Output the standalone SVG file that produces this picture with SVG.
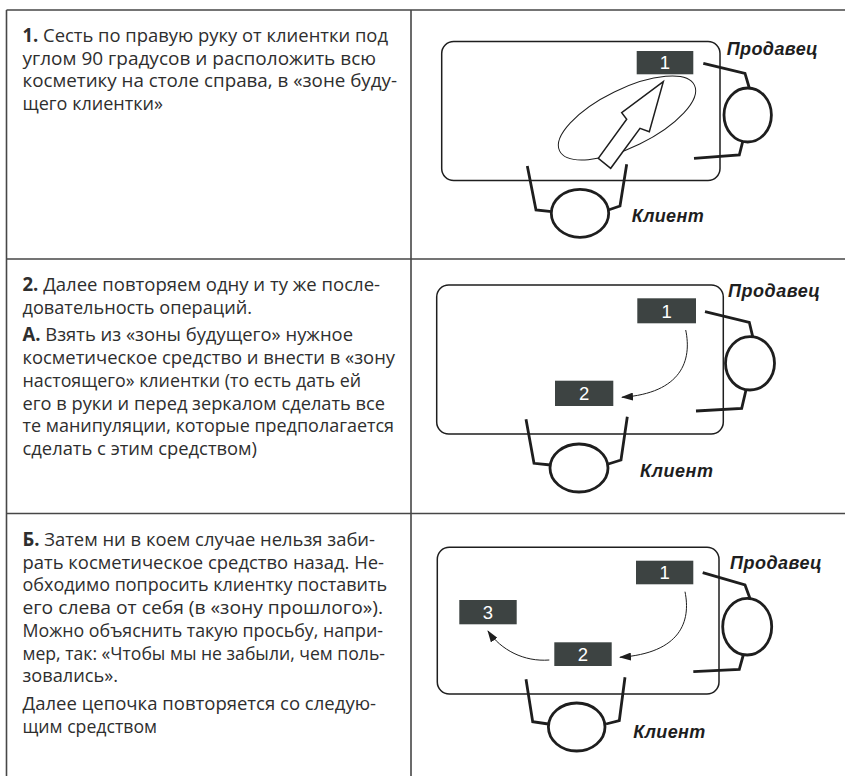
<svg xmlns="http://www.w3.org/2000/svg" width="845" height="776" viewBox="0 0 845 776">
<style>
.grid{stroke:#474747;stroke-width:1.6;fill:none}
.t{font-family:"Open Sans","Noto Sans",sans-serif;font-size:18.7px;fill:#2e2e2e}
.b{font-weight:bold}
.table{fill:none;stroke:#1e1e1e;stroke-width:1.5}
.fig{fill:none;stroke:#1e1e1e;stroke-width:2.8;stroke-linejoin:miter}
.box{fill:#3d4342}
.num{font-family:"Liberation Sans",Arial,sans-serif;font-size:18.5px;fill:#ffffff;text-anchor:middle}
.lbl{font-family:"Liberation Sans",Arial,sans-serif;font-size:18px;font-weight:bold;font-style:italic;fill:#1e1e1e}
.flow{fill:none;stroke:#1e1e1e;stroke-width:1}
</style>
<defs>
<marker id="ah" viewBox="0 0 12 8" refX="11" refY="4" markerWidth="12" markerHeight="8" markerUnits="userSpaceOnUse" orient="auto">
<path d="M0,0 L12,4 L0,8 Z" fill="#1e1e1e"/>
</marker>
</defs>

<g id="grid">
<path class="grid" d="M6.5,10 H845 M6.5,10 V776 M411,10 V776 M6.5,259 H845 M6.5,513.5 H845"/>
</g>

<g id="text1">
<text class="t" x="22.5" y="42" textLength="365.5" lengthAdjust="spacingAndGlyphs"><tspan class="b">1.</tspan> Сесть по правую руку от клиентки под</text>
<text class="t" x="22.5" y="64.7" textLength="353.5" lengthAdjust="spacingAndGlyphs">углом 90 градусов и расположить всю</text>
<text class="t" x="22.5" y="87.4" textLength="374.5" lengthAdjust="spacingAndGlyphs">косметику на столе справа, в «зоне буду-</text>
<text class="t" x="22.5" y="110.1" textLength="140.5" lengthAdjust="spacingAndGlyphs">щего клиентки»</text>
</g>

<g id="text2">
<text class="t" x="22.5" y="291" textLength="357.5" lengthAdjust="spacingAndGlyphs"><tspan class="b">2.</tspan> Далее повторяем одну и ту же после-</text>
<text class="t" x="22.5" y="313.7" textLength="229.5" lengthAdjust="spacingAndGlyphs">довательность операций.</text>
<text class="t" x="22.5" y="341.4" textLength="330.5" lengthAdjust="spacingAndGlyphs"><tspan class="b">А.</tspan> Взять из «зоны будущего» нужное</text>
<text class="t" x="22.5" y="364.1" textLength="372.5" lengthAdjust="spacingAndGlyphs">косметическое средство и внести в «зону</text>
<text class="t" x="22.5" y="386.8" textLength="338.5" lengthAdjust="spacingAndGlyphs">настоящего» клиентки (то есть дать ей</text>
<text class="t" x="22.5" y="409.5" textLength="362.5" lengthAdjust="spacingAndGlyphs">его в руки и перед зеркалом сделать все</text>
<text class="t" x="22.5" y="432.2" textLength="371.5" lengthAdjust="spacingAndGlyphs">те манипуляции, которые предполагается</text>
<text class="t" x="22.5" y="454.9" textLength="234.5" lengthAdjust="spacingAndGlyphs">сделать с этим средством)</text>
</g>

<g id="text3">
<text class="t" x="22.5" y="546" textLength="352.5" lengthAdjust="spacingAndGlyphs"><tspan class="b">Б.</tspan> Затем ни в коем случае нельзя заби-</text>
<text class="t" x="22.5" y="568.7" textLength="361.5" lengthAdjust="spacingAndGlyphs">рать косметическое средство назад. Не-</text>
<text class="t" x="22.5" y="591.4" textLength="364.5" lengthAdjust="spacingAndGlyphs">обходимо попросить клиентку поставить</text>
<text class="t" x="22.5" y="614.1" textLength="360.5" lengthAdjust="spacingAndGlyphs">его слева от себя (в «зону прошлого»).</text>
<text class="t" x="22.5" y="636.8" textLength="360.5" lengthAdjust="spacingAndGlyphs">Можно объяснить такую просьбу, напри-</text>
<text class="t" x="22.5" y="659.5" textLength="362.5" lengthAdjust="spacingAndGlyphs">мер, так: «Чтобы мы не забыли, чем поль-</text>
<text class="t" x="22.5" y="682.2" textLength="95.5" lengthAdjust="spacingAndGlyphs">зовались».</text>
<text class="t" x="22.5" y="710" textLength="353.5" lengthAdjust="spacingAndGlyphs">Далее цепочка повторяется со следую-</text>
<text class="t" x="22.5" y="732.7" textLength="134.5" lengthAdjust="spacingAndGlyphs">щим средством</text>
</g>

<!-- Diagram 1 -->
<g id="d1-table"><rect class="table" x="441.7" y="41.5" width="278.3" height="139" rx="12"/></g>
<g id="d1-item1"><rect class="box" x="636.7" y="51" width="56.6" height="23.3"/><text class="num" x="665" y="69">1</text></g>
<g id="d1-zone"><ellipse cx="627" cy="118" rx="75" ry="29" fill="none" stroke="#1e1e1e" stroke-width="1" transform="rotate(-26 627 118)"/></g>
<g id="d1-arrow"><polygon points="663.3,81.7 621.7,112.7 626.7,119.3 598.3,158.3 610.7,168.3 640,128.3 649.3,131.7" fill="#ffffff" stroke="#1e1e1e" stroke-width="1.5" stroke-linejoin="miter"/></g>
<g id="d1-seller"><ellipse class="fig" cx="747.7" cy="115" rx="23.7" ry="27"/><path class="fig" d="M703.3,63.3 L745,73.3 L749.3,88 M742.7,141.7 L739.3,155 L694,158.3"/><text class="lbl" x="726.7" y="55" textLength="91">Продавец</text></g>
<g id="d1-client"><ellipse class="fig" cx="580" cy="213.3" rx="28.7" ry="24"/><path class="fig" d="M527.3,166 L536,210 L551.7,211.7 M626.7,164.3 L620,206 L608.3,210"/><text class="lbl" x="631.7" y="221.7" textLength="72">Клиент</text></g>

<!-- Diagram 2 -->
<g id="d2-table"><rect class="table" x="436.7" y="285" width="286.6" height="149" rx="12"/></g>
<g id="d2-item1"><rect class="box" x="637.3" y="298.3" width="58.7" height="25"/><text class="num" x="666.7" y="317.5">1</text></g>
<g id="d2-item2"><rect class="box" x="555" y="380.7" width="58.3" height="25.3"/><text class="num" x="584.2" y="400">2</text></g>
<g id="d2-seller"><ellipse class="fig" cx="750" cy="363.3" rx="24.5" ry="26.7"/><path class="fig" d="M705,311.7 L749.3,322.3 L752.7,336.6 M746,390 L741.7,408.3 L696,411"/><text class="lbl" x="728" y="296.7" textLength="92">Продавец</text></g>
<g id="d2-client"><ellipse class="fig" cx="579" cy="468" rx="29" ry="24"/><path class="fig" d="M526,419.3 L534,463.3 L550.7,465 M627.3,416.7 L621,460 L608.3,464"/><text class="lbl" x="640" y="476.7" textLength="73">Клиент</text></g>

<!-- Diagram 3 -->
<g id="d3-table"><rect class="table" x="437.3" y="547.3" width="281.7" height="146.7" rx="12"/></g>
<g id="d3-item1"><rect class="box" x="636" y="560.7" width="57.3" height="23.6"/><text class="num" x="664.7" y="579">1</text></g>
<g id="d3-item3"><rect class="box" x="459.3" y="600" width="57.4" height="24.3"/><text class="num" x="488" y="618.5">3</text></g>
<g id="d3-item2"><rect class="box" x="554.3" y="642.3" width="57.4" height="23.7"/><text class="num" x="583" y="660.5">2</text></g>
<g id="d3-seller"><ellipse class="fig" cx="747.2" cy="626.7" rx="24.5" ry="28.3"/><path class="fig" d="M702.7,572.7 L745,585 L750,598.5 M743.3,655 L739.3,669.3 L693.3,671.7"/><text class="lbl" x="730" y="569.3" textLength="91.7">Продавец</text></g>
<g id="d3-client"><ellipse class="fig" cx="576.7" cy="727" rx="28.3" ry="24"/><path class="fig" d="M526,679.3 L532.7,721.7 L548.3,724 M625,677.3 L619.3,720.7 L606,724"/><text class="lbl" x="633.3" y="738" textLength="72">Клиент</text></g>

<g id="connectors">
<path class="flow" d="M685.7,330 C692,360 682,393 622,397.3" marker-end="url(#ah)"/>
<path class="flow" d="M685,591.7 C691,621 681,653 620,657.3" marker-end="url(#ah)"/>
<path class="flow" d="M549.3,660 C524,662 501,650 488,631" marker-end="url(#ah)"/>
</g>
</svg>
